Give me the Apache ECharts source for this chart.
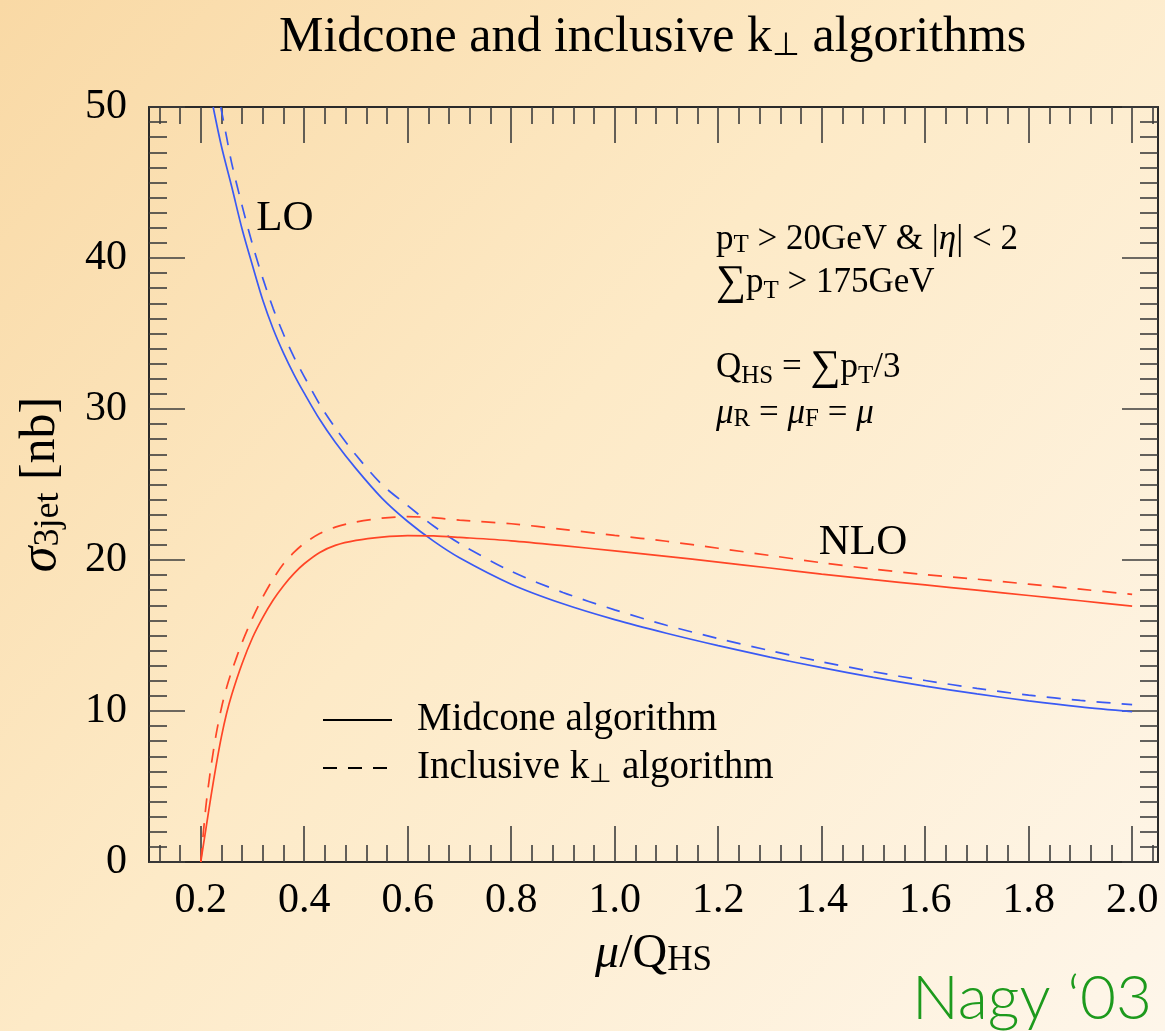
<!DOCTYPE html>
<html>
<head>
<meta charset="utf-8">
<script src="https://cdn.jsdelivr.net/npm/echarts@6/dist/echarts.min.js"></script>
<style>html,body{margin:0;padding:0;background:#fdebc9;}#c{width:1165px;height:1031px;}</style>
</head>
<body>
<div id="c"></div>
<script>
// ---------- data ----------
const xLoMidcone = [0.224,0.24,0.26,0.28,0.30,0.32,0.34,0.36,0.38,0.40,0.43,0.46,0.50,0.55,0.60,0.65,0.70,0.80,0.90,1.0,1.1,1.2,1.3,1.4,1.5,1.6,1.7,1.8,1.9,2.0];
const loMidcone  = [50,47.4,44.7,41.9,39.5,37.2,35.3,33.7,32.3,31.05,29.3,27.8,26.05,24.1,22.55,21.25,20.15,18.4,17.1,16.05,15.15,14.33,13.57,12.87,12.23,11.65,11.13,10.67,10.27,9.95];

const xLoKt = [0.2387,0.25,0.26,0.28,0.30,0.32,0.34,0.36,0.38,0.40,0.43,0.46,0.50,0.55,0.60,0.65,0.70,0.80,0.90,1.0,1.1,1.2,1.3,1.4,1.5,1.6,1.7,1.8,1.9,2.0];
const loKt  = [50,48.0,46.25,43.45,40.9,38.65,36.65,34.95,33.45,32.15,30.3,28.75,26.95,25.0,23.6,22.25,21.1,19.25,17.85,16.7,15.68,14.8,14.0,13.26,12.6,12.02,11.5,11.05,10.7,10.42];

const xNlo = [0.2,0.21,0.22,0.23,0.24,0.25,0.26,0.28,0.30,0.32,0.34,0.36,0.38,0.40,0.43,0.46,0.50,0.55,0.60,0.65,0.70,0.80,0.90,1.0,1.1,1.2,1.3,1.4,1.5,1.6,1.7,1.8,1.9,2.0];
const nloMidcone = [0,2.2,4.4,6.45,8.3,9.85,11.1,13.15,14.85,16.2,17.35,18.3,19.1,19.75,20.5,20.97,21.3,21.52,21.62,21.6,21.5,21.27,20.95,20.6,20.24,19.86,19.47,19.07,18.7,18.35,18.0,17.65,17.3,16.95];
const nloKt      = [0,3.7,6.35,8.5,10.2,11.55,12.65,14.55,16.15,17.55,18.75,19.75,20.5,21.1,21.75,22.18,22.52,22.77,22.87,22.8,22.64,22.4,22.03,21.63,21.24,20.78,20.3,19.82,19.4,19.03,18.73,18.4,18.07,17.72];

const xTickLabels = [0.2,0.4,0.6,0.8,1.0,1.2,1.4,1.6,1.8,2.0];
const yTickLabels = [0,10,20,30,40,50];
const legendNames = ['Midcone algorithm','Inclusive k\u22A5 algorithm'];

// ---------- helpers ----------
const pair = (xs, ys) => xs.map((x, i) => [x, ys[i]]);
const xMinor = [];
for (let k = 3; k <= 51; k++) { if (k % 5 !== 0) xMinor.push(Math.round(k * 4) / 100); }

const SERIF = "'Liberation Serif','Times New Roman',serif";
const AX = '#2a2a2a';
const TICK = '#3c3c3c';
const BLUE = '#3a5af4';
const RED = '#ff4526';
const DASH = [14, 11];
const CLEAR = 'rgba(0,0,0,0)';

const chart = echarts.init(document.getElementById('c'), null, {renderer: 'canvas'});

function xAx(pos, major, showLine, showLabel) {
  return {
    type: 'value', min: 0.1, max: 2.05, position: pos, gridIndex: 0,
    axisLine: {show: showLine, onZero: false, lineStyle: {color: AX, width: 2}},
    axisTick: {show: true, inside: true, length: major ? 36 : 17,
               customValues: major ? xTickLabels : xMinor,
               lineStyle: {color: TICK, width: 1.6}},
    axisLabel: {show: showLabel, customValues: xTickLabels, margin: 18,
                formatter: v => Number(v).toFixed(1),
                fontFamily: SERIF, fontSize: 42, color: '#000'},
    splitLine: {show: false}
  };
}
function yAx(pos, showLabel) {
  return {
    type: 'value', min: 0, max: 50, interval: 10, position: pos, gridIndex: 0,
    axisLine: {show: true, onZero: false, lineStyle: {color: AX, width: 2}},
    axisTick: {show: true, inside: true, length: 36, lineStyle: {color: TICK, width: 1.6}},
    minorTick: {show: true, splitNumber: 10, length: 18, lineStyle: {color: TICK, width: 1.6}},
    axisLabel: {show: showLabel, margin: 22, fontFamily: SERIF, fontSize: 42, color: '#000',
                customValues: yTickLabels},
    splitLine: {show: false}
  };
}

const xAxes = [xAx('bottom', true, true, true), xAx('bottom', false, false, false),
               xAx('top', true, true, false), xAx('top', false, false, false)];
xAxes[0].name = '{i|\u03BC}/Q{sub|HS}';
xAxes[0].nameLocation = 'middle';
xAxes[0].nameGap = 68;
xAxes[0].nameTextStyle = {fontFamily: SERIF, fontSize: 48, color: '#000',
  rich: {i: {fontFamily: SERIF, fontStyle: 'italic', fontSize: 48, color: '#000'},
         sub: {fontFamily: SERIF, fontSize: 35, color: '#000', verticalAlign: 'bottom', lineHeight: 24}}};

const yAxes = [yAx('left', true), yAx('right', false)];
yAxes[0].name = '{i|\u03C3}{sub|3jet} [nb]';
yAxes[0].nameLocation = 'middle';
yAxes[0].nameGap = 82;
yAxes[0].nameRotate = 90;
yAxes[0].nameTextStyle = {fontFamily: SERIF, fontSize: 50, color: '#000',
  rich: {i: {fontFamily: SERIF, fontStyle: 'italic', fontSize: 52, color: '#000'},
         sub: {fontFamily: SERIF, fontSize: 36, color: '#000', verticalAlign: 'bottom', lineHeight: 22}}};

function curve(name, xs, ys, color, dashed) {
  return {
    name: name, type: 'line', xAxisIndex: 0, yAxisIndex: 0,
    data: pair(xs, ys), showSymbol: false, symbol: 'none', smooth: 0.3,
    clip: true, silent: true, animation: false,
    lineStyle: {color: color, width: 1.7, type: dashed ? DASH : 'solid'}
  };
}

const annoRich = {
  sub: {fontFamily: SERIF, fontSize: 25, color: '#000', verticalAlign: 'bottom', lineHeight: 16},
  i: {fontFamily: SERIF, fontStyle: 'italic', fontSize: 35, color: '#000'},
  sum: {fontFamily: SERIF, fontSize: 42, color: '#000'}
};
function anno(text, x, y) {
  return {type: 'text', x: x, y: y, silent: true,
    style: {text: text, fontFamily: SERIF, fontSize: 35, fill: '#000', align: 'left',
            verticalAlign: 'middle', rich: annoRich}};
}

const option = {
  animation: false,
  backgroundColor: new echarts.graphic.LinearGradient(0, 0, 1, 1, [
    {offset: 0, color: '#f9d9a5'},
    {offset: 0.45, color: '#fdeac7'},
    {offset: 1, color: '#fef6ea'}
  ]),
  title: {
    text: 'Midcone and inclusive k{sub|\u22A5} algorithms',
    left: 279, top: 13, padding: 0,
    textStyle: {fontFamily: SERIF, fontSize: 50, fontWeight: 'normal', color: '#000',
      rich: {sub: {fontFamily: SERIF, fontSize: 32, color: '#000', verticalAlign: 'bottom', lineHeight: 16}}}
  },
  grid: {left: 149, right: 7, top: 107, bottom: 169, containLabel: false, outerBoundsMode: 'none'},
  xAxis: xAxes,
  yAxis: yAxes,
  legend: {
    data: legendNames, orient: 'vertical', left: 322, top: 700, padding: 0,
    itemWidth: 69, itemHeight: 14, itemGap: 8, selectedMode: false,
    itemStyle: {color: CLEAR, borderWidth: 0, opacity: 0},
    formatter: n => n.replace('k\u22A5', 'k{sub|\u22A5}'),
    textStyle: {fontFamily: SERIF, fontSize: 39, color: '#000', lineHeight: 40, padding: [0, 0, 0, 20],
      rich: {sub: {fontFamily: SERIF, fontSize: 26, color: '#000', verticalAlign: 'bottom', lineHeight: 14}}}
  },
  series: [
    curve('LO midcone', xLoMidcone, loMidcone, BLUE, false),
    curve('LO kt', xLoKt, loKt, BLUE, true),
    curve('NLO midcone', xNlo, nloMidcone, RED, false),
    curve('NLO kt', xNlo, nloKt, RED, true),
    {name: legendNames[0], type: 'line', data: [], symbol: 'none', lineStyle: {color: '#000', width: 1.7, type: 'solid'}, itemStyle: {color: CLEAR, borderWidth: 0}},
    {name: legendNames[1], type: 'line', data: [], symbol: 'none', lineStyle: {color: '#000', width: 1.7, type: DASH}, itemStyle: {color: CLEAR, borderWidth: 0}}
  ],
  graphic: [
    {type: 'text', x: 285, y: 219, silent: true,
     style: {text: 'LO', fontFamily: SERIF, fontSize: 43, fill: '#000', align: 'center', verticalAlign: 'middle'}},
    {type: 'text', x: 863, y: 543, silent: true,
     style: {text: 'NLO', fontFamily: SERIF, fontSize: 43, fill: '#000', align: 'center', verticalAlign: 'middle'}},
    anno('p{sub|T} > 20GeV & |{i|\u03B7}| < 2', 716, 240),
    anno('{sum|\u2211}p{sub|T} > 175GeV', 716, 283),
    anno('Q{sub|HS} = {sum|\u2211}p{sub|T}/3', 716, 368),
    anno('{i|\u03BC}{sub|R} = {i|\u03BC}{sub|F} = {i|\u03BC}', 716, 414),
    {type: 'text', x: 1152, y: 999, silent: true,
     style: {text: 'Nagy \u201803', fontFamily: "'Helvetica Neue','Lato','Liberation Sans',sans-serif", fontWeight: 300,
             fontSize: 62, fill: '#1d9a1d', align: 'right', verticalAlign: 'middle'}}
  ]
};
chart.setOption(option);
</script>
</body>
</html>
